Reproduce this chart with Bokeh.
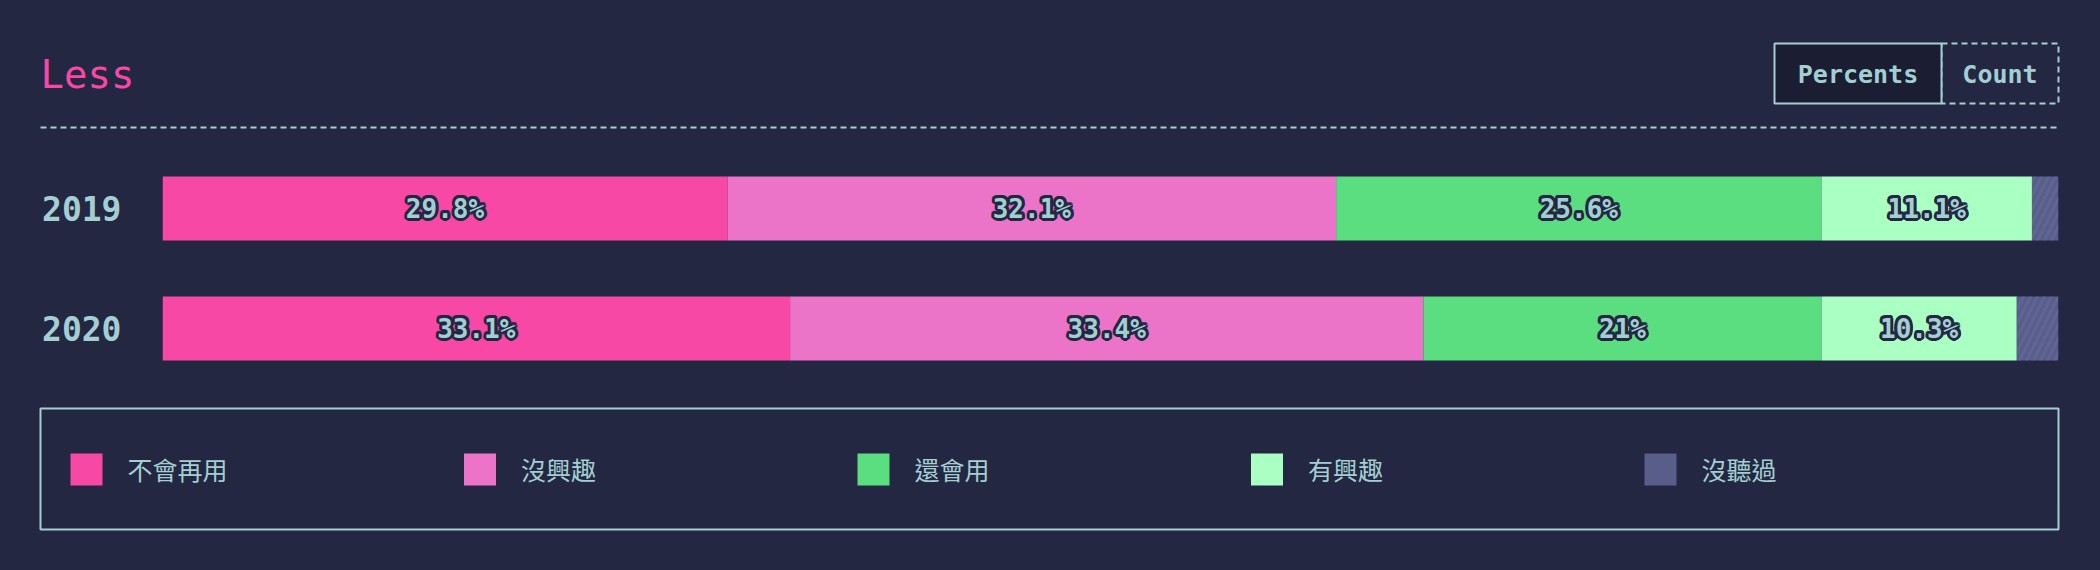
import math

from bokeh.core.properties import value
from bokeh.embed import file_html
from bokeh.layouts import column
from bokeh.models import ColumnDataSource, FactorRange, Range1d
from bokeh.plotting import figure
from bokeh.resources import INLINE

years = ["2019", "2020"]
categories = ["不會再用", "沒興趣", "還會用", "有興趣", "沒聽過"]
would_not_use = [29.8, 33.1]
not_interested = [32.1, 33.4]
would_use = [25.6, 21.0]
interested = [11.1, 10.3]
never_heard = [1.4, 2.2]
series = [would_not_use, not_interested, would_use, interested, never_heard]
colors = ["#f748a5", "#eb73c8", "#5ade7f", "#aaffc3", "#585d8a"]
title = "Less"
buttons = ["Percents", "Count"]

BG = "#232742"
TEAL = "#a4cfd2"
MONO = value("DejaVu Sans Mono")
W = 2100


def style(f):
    f.background_fill_color = None
    f.border_fill_color = None
    f.outline_line_color = None
    f.xgrid.grid_line_color = None
    f.ygrid.grid_line_color = None


def blank(h):
    f = figure(width=W, height=h, x_range=Range1d(0, W), y_range=Range1d(h, 0),
               x_axis_type=None, y_axis_type=None, toolbar_location=None,
               tools="", output_backend="svg", min_border=0, frame_align=False,
               styles={"background-color": BG})
    style(f)
    return f


# header: title, toggle buttons, dashed rule
head = blank(148)
head.text(x=[40], y=[74], text=[title], text_font=MONO, text_font_size="39px",
          text_color="#f748a5", text_baseline="middle")
head.quad(left=[1941], right=[2058], top=[43], bottom=[103], fill_alpha=0,
          line_color=TEAL, line_width=2, line_dash="6 4")
head.quad(left=[1774], right=[1941], top=[43], bottom=[103], fill_color="#1b1e33",
          line_color=TEAL, line_width=2)
head.text(x=[1857.5, 1999.5], y=[74, 74], text=buttons, text_font=MONO,
          text_font_size="25px", text_font_style="bold", text_color=TEAL,
          text_align="center", text_baseline="middle")
head.segment(x0=[40], y0=[127], x1=[2058], y1=[127], line_color=TEAL,
             line_width=2, line_dash="6 4")

# stacked bars
p = figure(width=W, height=240, y_range=FactorRange(factors=years[::-1]),
           x_range=Range1d(0, 100), toolbar_location=None, tools="",
           output_backend="svg", min_border_left=162, min_border_right=42,
           min_border_top=0, min_border_bottom=0, frame_align=False,
           styles={"background-color": BG})
style(p)
p.xaxis.visible = False
p.yaxis.axis_line_color = None
p.yaxis.major_tick_line_color = None
p.yaxis.major_tick_out = 0
p.yaxis.major_tick_in = 0
p.yaxis.major_label_standoff = 41
p.yaxis.major_label_text_font = "DejaVu Sans Mono"
p.yaxis.major_label_text_font_size = "33px"
p.yaxis.major_label_text_font_style = "bold"
p.yaxis.major_label_text_color = TEAL

start = [0.0] * len(years)
lab_x, lab_y, lab_t = [], [], []
for name, vals, col in zip(categories, series, colors):
    end = [s + v for s, v in zip(start, vals)]
    src = ColumnDataSource(data=dict(y=years, left=start, right=end))
    if name == "沒聽過":
        p.hbar(y="y", left="left", right="right", height=0.533, source=src,
               fill_color=col, line_color=None, hatch_pattern="/",
               hatch_color="#6a6fa0", hatch_alpha=0.45, hatch_scale=14,
               hatch_weight=3)
    else:
        p.hbar(y="y", left="left", right="right", height=0.533, source=src,
               fill_color=col, line_color=None)
    for y, s, e, v in zip(years, start, end, vals):
        if v >= 5:
            lab_x.append((s + e) / 2)
            lab_y.append(y)
            lab_t.append(f"{v:g}%")
    start = end

labels = ColumnDataSource(data=dict(x=lab_x, y=lab_y, t=lab_t))
# thick dark halo behind the percentage labels
for k in range(12):
    a = 2 * math.pi * k / 12
    p.text(x="x", y="y", text="t", source=labels, text_font=MONO,
           text_font_size="26px", text_font_style="bold", text_color=BG,
           text_align="center", text_baseline="middle",
           x_offset=3 * math.cos(a), y_offset=3 * math.sin(a))
p.text(x="x", y="y", text="t", source=labels, text_font=MONO,
       text_font_size="26px", text_font_style="bold", text_color=TEAL,
       text_align="center", text_baseline="middle")

# legend
leg = blank(182)
leg.quad(left=[40], right=[2058], top=[20], bottom=[141], fill_alpha=0,
         line_color=TEAL, line_width=2)
xs = [70 + i * 393.5 for i in range(len(categories))]
leg.rect(x=[x + 16 for x in xs], y=[81] * len(xs), width=32, height=32,
         fill_color=colors, line_color=None)
leg.text(x=[x + 57 for x in xs], y=[80] * len(xs), text=categories,
         text_font=value("Noto Sans CJK TC"), text_font_size="25px",
         text_color=TEAL, text_baseline="middle")

layout = column(head, p, leg, spacing=0, styles={"background-color": BG})
open("out.html", "w").write(file_html(layout, INLINE))
